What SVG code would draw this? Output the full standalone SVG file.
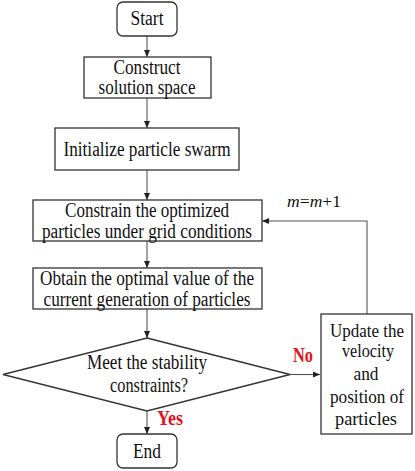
<svg xmlns="http://www.w3.org/2000/svg" width="415" height="471" viewBox="0 0 415 471">
<style>
.b{fill:#fff;stroke:#333;stroke-width:1.3}
.t{font-family:"Liberation Serif","Times New Roman",serif;font-size:20px;fill:#111;text-anchor:middle}
.u{font-size:19px}
.r{font-family:"Liberation Serif","Times New Roman",serif;font-size:20px;font-weight:bold;fill:#e8101a;text-anchor:middle}
.c{fill:none;stroke:#555;stroke-width:1.1}
</style>
<defs>
<marker id="a" markerWidth="8" markerHeight="8" refX="7" refY="4" orient="auto" markerUnits="userSpaceOnUse">
<path d="M0,1 L7,4 L0,7 Z" fill="#222"/>
</marker>
</defs>
<rect width="415" height="471" fill="#fff"/>
<g id="connectors">
<line class="c" x1="147" y1="36" x2="147" y2="57" marker-end="url(#a)"/>
<line class="c" x1="147" y1="98" x2="147" y2="128" marker-end="url(#a)"/>
<line class="c" x1="147" y1="170" x2="147" y2="200" marker-end="url(#a)"/>
<line class="c" x1="147" y1="241" x2="147" y2="268" marker-end="url(#a)"/>
<line class="c" x1="147" y1="309" x2="147" y2="338" marker-end="url(#a)"/>
<line class="c" x1="147" y1="411" x2="147" y2="434" marker-end="url(#a)"/>
<line class="c" x1="290" y1="374.5" x2="320" y2="374.5" marker-end="url(#a)"/>
<polyline class="c" points="367,314 367,221 262,221" marker-end="url(#a)"/>
<text class="t" x="314" y="207" style="font-size:17.5px"><tspan font-style="italic">m</tspan>=<tspan font-style="italic">m</tspan>+1</text>
<text class="r" x="303" y="362" textLength="20" lengthAdjust="spacingAndGlyphs">No</text>
<text class="r" x="170" y="425" textLength="26" lengthAdjust="spacingAndGlyphs">Yes</text>
</g>
<g id="start">
<rect class="b" x="117" y="2" width="60" height="34" rx="6"/>
<text class="t" x="147" y="25" textLength="33" lengthAdjust="spacingAndGlyphs">Start</text>
</g>
<g id="construct">
<rect class="b" x="84" y="57" width="127" height="41"/>
<text class="t" x="147" y="74" textLength="67" lengthAdjust="spacingAndGlyphs">Construct</text>
<text class="t" x="147" y="94" textLength="97" lengthAdjust="spacingAndGlyphs">solution space</text>
</g>
<g id="initialize">
<rect class="b" x="55" y="128" width="184" height="42"/>
<text class="t" x="147" y="156" textLength="167" lengthAdjust="spacingAndGlyphs">Initialize particle swarm</text>
</g>
<g id="constrain">
<rect class="b" x="33" y="200" width="229" height="41"/>
<text class="t" x="147" y="217" textLength="164" lengthAdjust="spacingAndGlyphs">Constrain the optimized</text>
<text class="t" x="147" y="238" textLength="210" lengthAdjust="spacingAndGlyphs">particles under grid conditions</text>
</g>
<g id="obtain">
<rect class="b" x="33" y="268" width="229" height="41"/>
<text class="t" x="147" y="285" textLength="214" lengthAdjust="spacingAndGlyphs">Obtain the optimal value of the</text>
<text class="t" x="147" y="306" textLength="207" lengthAdjust="spacingAndGlyphs">current generation of particles</text>
</g>
<g id="decision">
<polygon class="b" points="147,338 290,374.5 147,411 3,374.5"/>
<text class="t" x="147" y="369" textLength="120" lengthAdjust="spacingAndGlyphs">Meet the stability</text>
<text class="t" x="149" y="392" textLength="78" lengthAdjust="spacingAndGlyphs">constraints?</text>
</g>
<g id="update">
<rect class="b" x="321" y="314" width="91" height="120"/>
<text class="t u" x="367" y="337" textLength="74" lengthAdjust="spacingAndGlyphs">Update the</text>
<text class="t u" x="368" y="357" textLength="52" lengthAdjust="spacingAndGlyphs">velocity</text>
<text class="t u" x="366" y="380" textLength="25" lengthAdjust="spacingAndGlyphs">and</text>
<text class="t u" x="367" y="403" textLength="74" lengthAdjust="spacingAndGlyphs">position of</text>
<text class="t u" x="366" y="425" textLength="62" lengthAdjust="spacingAndGlyphs">particles</text>
</g>
<g id="end">
<rect class="b" x="117" y="434" width="60" height="34" rx="6"/>
<text class="t" x="147" y="458" textLength="28" lengthAdjust="spacingAndGlyphs">End</text>
</g>
</svg>
